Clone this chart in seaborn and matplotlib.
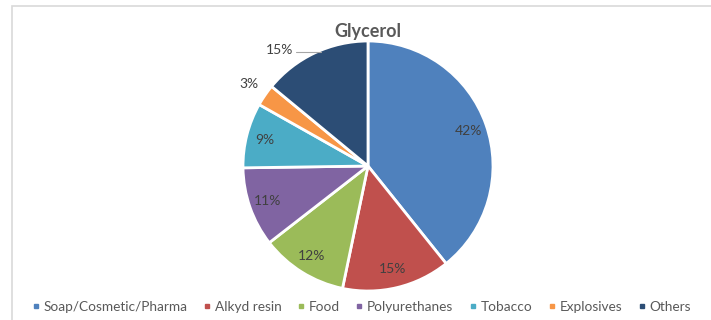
import numpy as np
import matplotlib
matplotlib.use("Agg")
import matplotlib.pyplot as plt
from matplotlib.patches import Rectangle
from matplotlib.lines import Line2D
import seaborn as sns

categories = ["Soap/Cosmetic/Pharma", "Alkyd resin", "Food", "Polyurethanes",
              "Tobacco", "Explosives", "Others"]
values = [42, 15, 12, 11, 9, 3, 15]
colors = ["#4F81BD", "#C0504D", "#9BBB59", "#8064A2", "#4BACC6", "#F79646", "#2C4D75"]
title = "Glycerol"

sns.set_theme(style="white")
plt.rcParams["font.family"] = ["Lato", "DejaVu Sans"]

W, H = 711, 320
fig = plt.figure(figsize=(W / 100, H / 100), dpi=100)
fig.patch.set_facecolor("white")

# chart border (light grey, top and left visible)
fig.add_artist(Rectangle((12 / W, -0.1), 1.2, 1 - 6 / H + 0.1, transform=fig.transFigure,
                         fill=False, edgecolor="#D9D9D9", linewidth=1.2))

cx, cy, r = 368, 166, 125
ax = fig.add_axes([(cx - r) / W, (H - cy - r) / H, 2 * r / W, 2 * r / H])
wedges, _ = ax.pie(values, colors=colors, startangle=90, counterclock=False,
                   wedgeprops=dict(edgecolor="white", linewidth=2))
ax.set_xlim(-1, 1)
ax.set_ylim(-1, 1)
ax.set_aspect("equal")
ax.axis("off")

# labels
outside = {5: (1.16, 0.0), 6: (1.17, 12.0)}
for i, (w, v) in enumerate(zip(wedges, values)):
    mid = (w.theta1 + w.theta2) / 2
    if i in outside:
        dist, shift = outside[i]
        ang = np.deg2rad(mid + shift)
    else:
        dist = 0.85
        ang = np.deg2rad(mid)
    x, y = dist * np.cos(ang), dist * np.sin(ang)
    ax.text(x, y, f"{v}%", ha="center", va="center", fontsize=10,
            color="#404040", clip_on=False)
    if i == 6:
        ax.plot([x + 0.13, x + 0.33], [y - 0.02, y - 0.02], color="#A6A6A6",
                linewidth=0.8, clip_on=False)

fig.text(cx / W, 1 - 31 / H, title, ha="center", va="center", fontsize=13,
         fontweight="bold", color="#595959")

handles = [Line2D([], [], marker="s", linestyle="none", markersize=3.5,
                  markerfacecolor=c, markeredgecolor=c) for c in colors]
leg = fig.legend(handles, categories, loc="center left", bbox_to_anchor=(29 / W, 1 - 307 / H),
                 ncol=7, frameon=False, fontsize=9.8, handletextpad=0.05,
                 columnspacing=0.95, handlelength=1.0, borderaxespad=0, borderpad=0)
for t in leg.get_texts():
    t.set_color("#595959")

fig.savefig("out.png", dpi=100, facecolor="white")
